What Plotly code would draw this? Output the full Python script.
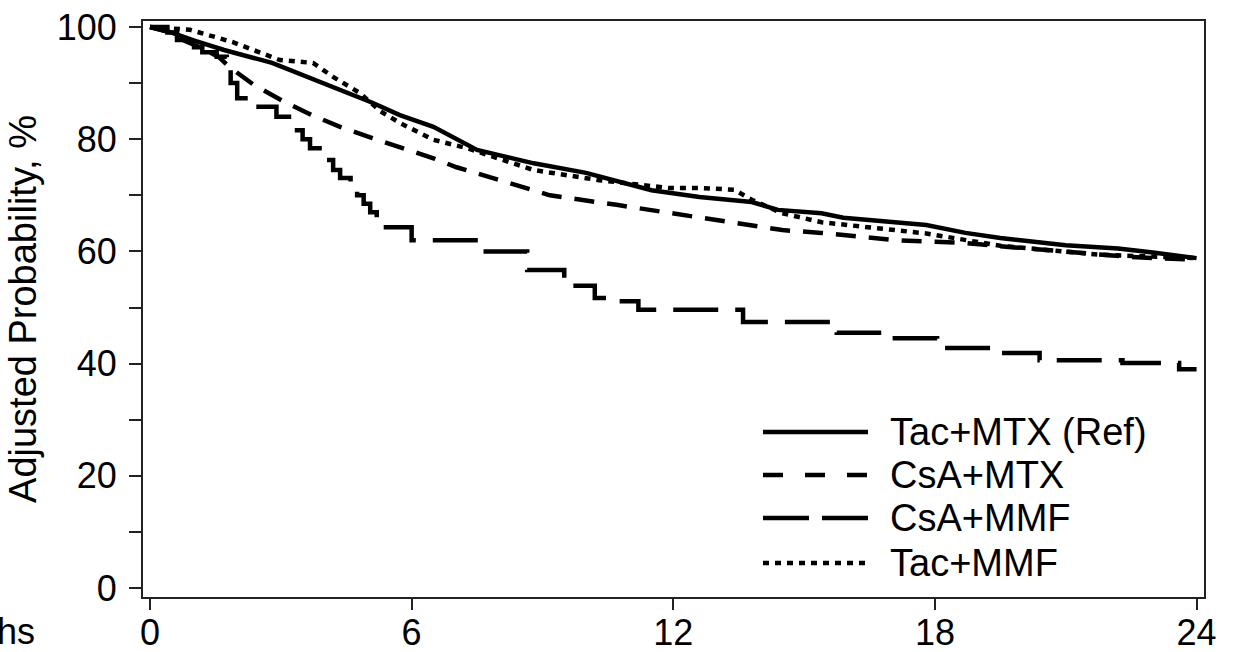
import plotly.graph_objects as go

# ---------------- data ----------------
months_tac_mtx = [0, 0.5, 1.0, 1.7, 2.8, 4.0, 5.1, 5.73, 6.5, 7.5, 8.0, 8.8, 10.0, 11.1, 11.5,
                  12.6, 13.8, 14.4, 15.4, 15.9, 17.0, 17.8, 18.7, 19.5, 21.0, 22.2, 23.0, 24.0]
prob_tac_mtx = [100, 99, 97.6, 95.9, 93.6, 90.0, 86.5, 84.3, 82.2, 78.1, 77.2, 75.7, 74.0, 71.8, 70.9,
                69.7, 68.8, 67.4, 66.8, 66.0, 65.3, 64.7, 63.3, 62.4, 61.1, 60.5, 59.8, 58.8]

months_csa_mtx = [0, 0.5, 0.75, 1.2, 1.6, 1.8, 2.36, 3.05, 3.74, 4.36, 5.1, 5.73, 6.5, 7.03, 8.4,
                  9.17, 10.7, 12.2, 13.4, 14.5, 15.4, 16.3, 17.1, 18.0, 18.7, 19.7, 20.4, 21.4, 22.5, 24.0]
prob_csa_mtx = [100, 99, 97.7, 96.2, 94.5, 93.0, 89.8, 86.8, 84.2, 82.2, 80.2, 78.6, 76.6, 75.0, 71.8,
                70.0, 68.3, 66.5, 65.2, 63.8, 63.3, 62.6, 62.0, 61.7, 61.5, 60.8, 60.3, 59.7, 59.0, 58.5]

months_csa_mmf = [0, 0.4, 0.62, 0.92, 1.2, 1.53, 1.76, 1.85, 2.0, 2.36, 2.9, 3.28, 3.5, 3.67, 3.97,
                  4.2, 4.36, 4.6, 4.75, 4.9, 5.05, 5.2, 5.34, 6.0, 7.7, 8.65, 9.5, 10.2, 10.6, 11.2,
                  13.6, 15.75, 16.9, 18.05, 19.4, 20.4, 22.3, 23.6, 24.0]
prob_csa_mmf = [100, 99, 97.7, 96.4, 95.5, 94.7, 92.7, 90.0, 87.3, 85.8, 84.0, 81.6, 80.0, 78.4, 76.3,
                74.5, 73.1, 71.5, 70.0, 68.5, 67.0, 65.5, 64.3, 62.0, 60.0, 56.7, 53.9, 51.7, 51.1, 49.6,
                47.4, 45.5, 44.5, 42.8, 41.9, 40.6, 40.1, 39.0, 39.0]

months_tac_mmf = [0, 0.5, 0.92, 1.9, 2.98, 3.74, 4.2, 4.82, 5.28, 5.73, 6.5, 7.27, 8.8, 10.3, 11.9,
                  12.6, 13.4, 13.8, 14.5, 15.4, 16.4, 17.8, 19.5, 21.8, 24.0]
prob_tac_mmf = [100, 99.8, 99.5, 97.3, 94.1, 93.6, 91.1, 88.2, 85.0, 82.9, 79.9, 78.4, 74.5, 72.7, 71.3,
                71.3, 71.0, 69.2, 66.8, 65.2, 64.3, 63.2, 61.0, 59.4, 58.8]

series_names = ["Tac+MTX (Ref)", "CsA+MTX", "CsA+MMF", "Tac+MMF"]
x_ticks = [0, 6, 12, 18, 24]
y_ticks = [0, 20, 40, 60, 80, 100]

# ---------------- styling ----------------
FONT = "Liberation Sans, Arial, Helvetica, sans-serif"
W, H = 1234, 652
ML, MR, MT, MB = 143, 30, 21, 55
PW, PH = W - ML - MR, H - MT - MB


def pxx(px):
    return (px - ML) / PW


def pxy(py):
    return (H - MB - py) / PH


styles = [
    dict(dash="solid", shape="linear"),
    dict(dash="20px,13px", shape="linear"),
    dict(dash="45px,17px", shape="hv"),
    dict(dash="6px,6px", shape="linear"),
]
legend_dash = ["solid", "20px,22px", "46px,13px", "6px,6px"]

fig = go.Figure()
data = [(months_tac_mtx, prob_tac_mtx), (months_csa_mtx, prob_csa_mtx),
        (months_csa_mmf, prob_csa_mmf), (months_tac_mmf, prob_tac_mmf)]
for (xs, ys), name, st in zip(data, series_names, styles):
    fig.add_trace(go.Scatter(
        x=xs, y=ys, mode="lines", name=name, showlegend=False,
        line=dict(color="black", width=4.5, dash=st["dash"], shape=st["shape"]),
    ))

# legend (keys + labels inside the plot, lower right)
row_y = [432, 475, 518, 563]
shapes = []
annotations = []
for name, dash, ry in zip(series_names, legend_dash, row_y):
    shapes.append(dict(type="line", xref="paper", yref="paper",
                       x0=pxx(763), x1=pxx(868), y0=pxy(ry), y1=pxy(ry),
                       line=dict(color="black", width=4.5, dash=dash)))
    annotations.append(dict(text=name, xref="paper", yref="paper", x=pxx(888), y=pxy(ry),
                            xanchor="left", yanchor="middle", showarrow=False,
                            font=dict(family=FONT, size=38, color="black")))

# x-axis title (cut off at the left edge, as in the reference)
annotations.append(dict(text="Months", xref="paper", yref="paper", x=pxx(37), y=pxy(631),
                        xanchor="right", yanchor="middle", showarrow=False,
                        font=dict(family=FONT, size=36, color="black")))

fig.update_layout(
    width=W, height=H,
    margin=dict(l=ML, r=MR, t=MT, b=MB, pad=0),
    paper_bgcolor="white", plot_bgcolor="white",
    font=dict(family=FONT, color="black"),
    showlegend=False,
    shapes=shapes,
    annotations=annotations,
    xaxis=dict(
        range=[-0.16, 24.17], tickvals=x_ticks, ticktext=[str(v) for v in x_ticks],
        ticks="outside", ticklen=11, tickwidth=2, tickcolor="#222",
        showline=True, mirror=True, linewidth=2, linecolor="#222",
        showgrid=False, zeroline=False, automargin=False,
        tickfont=dict(family=FONT, size=36, color="black"),
        ticklabelstandoff=-8,
    ),
    yaxis=dict(
        range=[-1.6, 101.07], tickvals=y_ticks, ticktext=[str(v) for v in y_ticks],
        ticks="outside", ticklen=12, tickwidth=2, tickcolor="#222",
        minor=dict(ticks="outside", ticklen=12, tickwidth=2, tickcolor="#222",
                   tickvals=[10, 30, 50, 70, 90], showgrid=False),
        showline=True, mirror=True, linewidth=2, linecolor="#222",
        showgrid=False, zeroline=False, automargin=False,
        tickfont=dict(family=FONT, size=36, color="black"),
        ticklabelstandoff=5,
        title=dict(text="Adjusted Probability, %", standoff=8,
                   font=dict(family=FONT, size=38, color="black")),
    ),
)

fig.write_html("out.html", config={"displayModeBar": False},
               post_script="document.body.style.margin='0px';")
